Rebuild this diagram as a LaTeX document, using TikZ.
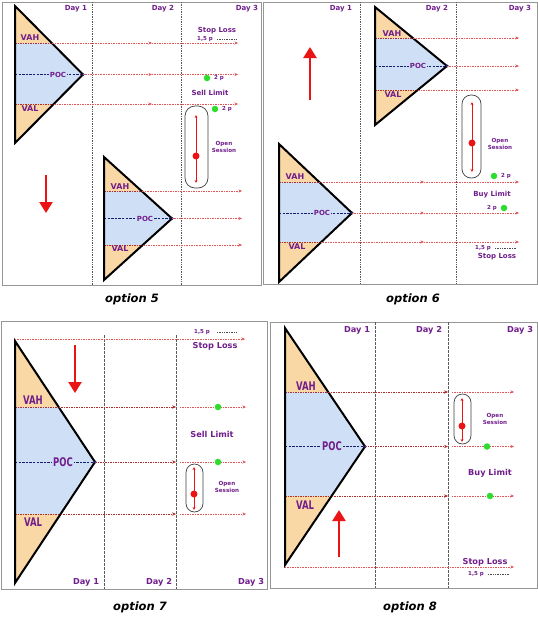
\documentclass[tikz,border=0pt]{standalone}
\usepackage{fontspec}
\setmainfont{DejaVu Sans}
\usetikzlibrary{arrows.meta,calc}
\definecolor{tanf}{RGB}{249,216,166}
\definecolor{bluef}{RGB}{207,224,246}
\definecolor{purp}{RGB}{112,30,140}
\definecolor{lred}{RGB}{228,85,85}
\definecolor{dred}{RGB}{175,45,45}
\definecolor{gdot}{RGB}{45,220,45}
\definecolor{rdot}{RGB}{235,20,20}
\definecolor{navyc}{RGB}{20,30,110}
\definecolor{framec}{RGB}{150,150,150}
\newcommand\tallt[1]{\scalebox{1}[1.4]{#1}}
\tikzset{
  panel/.style={draw=framec, line width=1pt},
  dayline/.style={draw=black!65, densely dotted, line width=0.7pt},
  daylinetwo/.style={draw=black!65, dash pattern=on 2.5pt off 1.5pt, line width=0.55pt},
  lvl/.style={draw=lred, densely dotted, line width=0.65pt, -{Stealth[length=3.5pt,width=3pt]}},
  lvlthick/.style={draw=dred, dash pattern=on 1.6pt off 0.9pt, line width=0.8pt, -{Stealth[length=4pt,width=3.4pt]}},
  innerl/.style={draw=dred, dash pattern=on 1.6pt off 0.9pt, line width=0.7pt},
  pocl/.style={draw=navyc, dash pattern=on 2.4pt off 1.2pt, line width=0.85pt},
  tri/.style={draw=black, line width=2pt, line join=miter},
  bigarrow/.style={draw=rdot, line width=2.4pt, -{Triangle[length=11pt,width=13pt]}},
  capsule/.style={draw=black!75, line width=0.7pt},
  sess/.style={draw=rdot, line width=0.7pt, {Stealth[length=3pt,width=2.8pt]}-{Stealth[length=3pt,width=2.8pt]}},
  gd/.style={circle, fill=gdot, inner sep=0pt, minimum size=6.5pt},
  rd/.style={circle, fill=rdot, inner sep=0pt, minimum size=7pt},
  txt/.style={text=purp, inner sep=0pt, font=\bfseries\fontsize{7}{8}\selectfont},
  txtb/.style={text=purp, inner sep=0pt, font=\bfseries\fontsize{8.2}{9}\selectfont},
  lab/.style={text=purp, inner sep=0.6pt, font=\bfseries\fontsize{8}{9}\selectfont},
  labp/.style={text=purp, inner sep=0.8pt, fill=bluef, font=\bfseries\fontsize{7}{8}\selectfont},
  labbig/.style={text=purp, inner sep=0.6pt, font=\bfseries\fontsize{8.5}{9}\selectfont},
  labbigp/.style={text=purp, inner sep=0.8pt, fill=bluef, font=\bfseries\fontsize{8.5}{9}\selectfont},
  small/.style={text=purp, inner sep=0pt, font=\bfseries\fontsize{5.5}{6.5}\selectfont},
  sessl/.style={text=purp, inner sep=0pt, align=center, font=\bfseries\fontsize{5.6}{6.6}\selectfont},
  caption/.style={text=black, inner sep=0pt, font=\bfseries\itshape\fontsize{11.5}{13}\selectfont},
  dashsmall/.style={draw=black!70, dash pattern=on 1pt off 0.7pt, line width=0.55pt}
}
\newcommand\vaprofile[7]{%
  \pgfmathsetmacro\ymidv{(#3+#4)/2}%
  \pgfmathsetmacro\xhv{#2+(#6-#3)/(\ymidv-#3)*(#5-#2)}%
  \pgfmathsetmacro\xlv{#2+(#4-#7)/(#4-\ymidv)*(#5-#2)}%
  \coordinate (#1T) at (#2,#3);
  \coordinate (#1B) at (#2,#4);
  \coordinate (#1A) at (#5,\ymidv);
  \coordinate (#1P) at (#2,\ymidv);
  \coordinate (#1HL) at (#2,#6);
  \coordinate (#1HE) at (\xhv,#6);
  \coordinate (#1LL) at (#2,#7);
  \coordinate (#1LE) at (\xlv,#7);
  \fill[tanf] (#1T)--(#1HE)--(#1HL)--cycle;
  \fill[bluef] (#1HL)--(#1HE)--(#1A)--(#1LE)--(#1LL)--cycle;
  \fill[tanf] (#1LL)--(#1LE)--(#1B)--cycle;
  \draw[innerl] (#1HL)--(#1HE);
  \draw[innerl] (#1LL)--(#1LE);
  \draw[pocl] (#1P)--(#1A);
  \draw[tri] (#1T)--(#1A)--(#1B)--cycle;
  \fill[navyc] (#1A) circle (1.6pt);
}
\begin{document}
\begin{tikzpicture}[x=1pt,y=-1pt]
\fill[white] (0,0) rectangle (538,630);
\useasboundingbox (0,0) rectangle (538,630);

% ================= option 5 =================
\draw[panel] (2,2) rectangle (261,285);
\draw[dayline] (92,2) -- (92,285);
\draw[dayline] (181,2) -- (181,285);
\node[txt] (d51) at (76,9) {Day 1};
\node[txt] (d52) at (163,9) {Day 2};
\node[txt] (d53) at (247,9) {Day 3};
\vaprofile{pa}{15}{6}{143}{83}{43}{104}
\node[lab] (pavah) at (30,38) {VAH};
\node[labp] (papoc) at (58,74.5) {POC};
\node[lab] (paval) at (30,109) {VAL};
\coordinate (paHm) at (152,43); \coordinate (paHx) at (238,43);
\coordinate (paPm) at (152,74.5); \coordinate (paPx) at (238,74.5);
\coordinate (paLm) at (152,104); \coordinate (paLx) at (238,104);
\draw[lvl] (paHE) -- (paHm); \draw[lvl] (paHm) -- (paHx);
\draw[lvl] (paA) -- (paPm); \draw[lvl] (paPm) -- (paPx);
\draw[lvl] (paLE) -- (paLm); \draw[lvl] (paLm) -- (paLx);
\vaprofile{pb}{104}{157}{280}{172}{191}{245}
\node[lab] (pbvah) at (120,187) {VAH};
\node[labp] (pbpoc) at (145,218.5) {POC};
\node[lab] (pbval) at (120,249) {VAL};
\coordinate (pbHx) at (242,191); \coordinate (pbPx) at (242,218.5); \coordinate (pbLx) at (242,245);
\draw[lvl] (pbHE) -- (pbHx);
\draw[lvl] (pbA) -- (pbPx);
\draw[lvl] (pbLE) -- (pbLx);
\node[txt] (sl5) at (217,31) {Stop Loss};
\node[small] (p15a) at (205,39) {1,5 p};
\coordinate (ds5a) at (217,39); \coordinate (ds5b) at (236,39);
\draw[dashsmall] (ds5a) -- (ds5b);
\node[gd] (g5a) at (207,78) {};
\node[small] (t5a) at (219,78.5) {2 p};
\node[txt] (sell5) at (210,93) {Sell Limit};
\node[gd] (g5b) at (215,109) {};
\node[small] (t5b) at (227,109.5) {2 p};
\draw[capsule, rounded corners=10pt] (185,106) rectangle (208,188);
\coordinate (s5a) at (196,115); \coordinate (s5b) at (196,183);
\draw[sess] (s5a) -- (s5b);
\node[rd] (r5) at (196,156) {};
\node[sessl] (os5) at (224,147) {Open\\Session};
\coordinate (ar5a) at (46,175); \coordinate (ar5b) at (46,213);
\draw[bigarrow] (ar5a) -- (ar5b);
\node[caption] (cap5) at (132,299) {option 5};

% ================= option 6 =================
\draw[panel] (263,2) rectangle (537,284);
\draw[dayline] (360,2) -- (360,284);
\draw[dayline] (456,2) -- (456,284);
\node[txt] (d61) at (341,9) {Day 1};
\node[txt] (d62) at (437,9) {Day 2};
\node[txt] (d63) at (520,9) {Day 3};
\vaprofile{pc}{375}{7}{125}{447}{38}{90}
\node[lab] (pcvah) at (392,33.5) {VAH};
\node[labp] (pcpoc) at (418,66) {POC};
\node[lab] (pcval) at (393,94.5) {VAL};
\coordinate (pcHx) at (519,38); \coordinate (pcPx) at (519,66); \coordinate (pcLx) at (519,90);
\draw[lvl] (pcHE) -- (pcHx);
\draw[lvl] (pcA) -- (pcPx);
\draw[lvl] (pcLE) -- (pcLx);
\vaprofile{pd}{279}{144}{282}{352}{182}{242}
\node[lab] (pdvah) at (295,177) {VAH};
\node[labp] (pdpoc) at (322,213) {POC};
\node[lab] (pdval) at (297,247) {VAL};
\coordinate (pdHm) at (424,182); \coordinate (pdHx) at (519,182);
\coordinate (pdPm) at (424,213); \coordinate (pdPx) at (519,213);
\coordinate (pdLm) at (424,242); \coordinate (pdLx) at (519,242);
\draw[lvl] (pdHE) -- (pdHm); \draw[lvl] (pdHm) -- (pdHx);
\draw[lvl] (pdA) -- (pdPm); \draw[lvl] (pdPm) -- (pdPx);
\draw[lvl] (pdLE) -- (pdLm); \draw[lvl] (pdLm) -- (pdLx);
\coordinate (ar6a) at (310,100); \coordinate (ar6b) at (310,47);
\draw[bigarrow] (ar6a) -- (ar6b);
\draw[capsule, rounded corners=9pt] (462,95) rectangle (481,178);
\coordinate (s6a) at (472,102); \coordinate (s6b) at (472,172);
\draw[sess] (s6a) -- (s6b);
\node[rd] (r6) at (472,143) {};
\node[sessl] (os6) at (500,144) {Open\\Session};
\node[gd] (g6a) at (494,176) {};
\node[small] (t6a) at (506,176.5) {2 p};
\node[txt] (buy6) at (492,195) {Buy Limit};
\node[small] (t6b) at (492,208.5) {2 p};
\node[gd] (g6b) at (504,208) {};
\node[small] (p16) at (483,248) {1,5 p};
\coordinate (ds6a) at (495,248); \coordinate (ds6b) at (517,248);
\draw[dashsmall] (ds6a) -- (ds6b);
\node[txt] (sl6) at (497,257) {Stop Loss};
\node[caption] (cap6) at (413,299) {option 6};

% ================= option 7 =================
\draw[panel] (1,321) rectangle (267,589);
\draw[daylinetwo] (104,335) -- (104,589);
\draw[daylinetwo] (176,335) -- (176,589);
\node[txtb] (d71) at (86,582) {Day 1};
\node[txtb] (d72) at (159,582) {Day 2};
\node[txtb] (d73) at (251,582) {Day 3};
\vaprofile{pe}{15}{341}{583}{95}{407}{514}
\coordinate (peS0) at (15,339); \coordinate (peSx) at (245,339);
\draw[lvl] (peS0) -- (peSx);
\node[labbig] (pevah) at (33,400) {\tallt{VAH}};
\node[labbigp] (pepoc) at (63,462) {\tallt{POC}};
\node[labbig] (peval) at (33,522) {\tallt{VAL}};
\coordinate (peHm) at (176,407); \coordinate (peHn) at (180,407); \coordinate (peHx) at (246,407);
\coordinate (pePm) at (176,462); \coordinate (pePn) at (180,462); \coordinate (pePx) at (246,462);
\coordinate (peLm) at (176,514); \coordinate (peLn) at (180,514); \coordinate (peLx) at (246,514);
\draw[lvlthick] (peHE) -- (peHm); \draw[lvl] (peHn) -- (peHx);
\draw[lvlthick] (peA) -- (pePm); \draw[lvl] (pePn) -- (pePx);
\draw[lvlthick] (peLE) -- (peLm); \draw[lvl] (peLn) -- (peLx);
\node[gd] (g7a) at (218,407) {};
\node[gd] (g7b) at (218,462) {};
\node[txtb] (sell7) at (212,434) {Sell Limit};
\draw[capsule, rounded corners=8.5pt] (186,464) rectangle (203,512);
\coordinate (s7a) at (194,467); \coordinate (s7b) at (194,510);
\draw[sess] (s7a) -- (s7b);
\node[rd] (r7) at (194,494) {};
\node[sessl] (os7) at (227,487) {Open\\Session};
\coordinate (ar7a) at (75,345); \coordinate (ar7b) at (75,393);
\draw[bigarrow] (ar7a) -- (ar7b);
\node[small] (p17) at (202,332) {1,5 p};
\coordinate (ds7a) at (217,332); \coordinate (ds7b) at (237,332);
\draw[dashsmall] (ds7a) -- (ds7b);
\node[txtb] (sl7) at (215,346) {Stop Loss};
\node[caption] (cap7) at (140,607) {option 7};

% ================= option 8 =================
\draw[panel] (270,322) rectangle (537,588);
\draw[daylinetwo] (375,322) -- (375,588);
\draw[daylinetwo] (448,322) -- (448,588);
\node[txtb] (d81) at (357,330) {Day 1};
\node[txtb] (d82) at (429,330) {Day 2};
\node[txtb] (d83) at (520,330) {Day 3};
\vaprofile{pf}{285}{328}{565}{365}{392}{496}
\node[labbig] (pfvah) at (306,386) {\tallt{VAH}};
\node[labbigp] (pfpoc) at (332,446.5) {\tallt{POC}};
\node[labbig] (pfval) at (305,505) {\tallt{VAL}};
\coordinate (pfHm) at (448,392); \coordinate (pfHn) at (452,392); \coordinate (pfHx) at (514,392);
\coordinate (pfPm) at (448,446.5); \coordinate (pfPn) at (452,446.5); \coordinate (pfPx) at (514,446.5);
\coordinate (pfLm) at (448,496); \coordinate (pfLn) at (452,496); \coordinate (pfLx) at (514,496);
\draw[lvlthick] (pfHE) -- (pfHm); \draw[lvl] (pfHn) -- (pfHx);
\draw[lvlthick] (pfA) -- (pfPm); \draw[lvl] (pfPn) -- (pfPx);
\draw[lvlthick] (pfLE) -- (pfLm); \draw[lvl] (pfLn) -- (pfLx);
\coordinate (pfS0) at (285,567); \coordinate (pfSx) at (514,567);
\draw[lvl] (pfS0) -- (pfSx);
\node[gd] (g8a) at (487,446.5) {};
\node[gd] (g8b) at (490,496) {};
\draw[capsule, rounded corners=8.5pt] (454,394) rectangle (471,444);
\coordinate (s8a) at (462,398); \coordinate (s8b) at (462,442);
\draw[sess] (s8a) -- (s8b);
\node[rd] (r8) at (462,426) {};
\node[sessl] (os8) at (495,419) {Open\\Session};
\node[txtb] (buy8) at (490,473) {Buy Limit};
\coordinate (ar8a) at (339,557); \coordinate (ar8b) at (339,510);
\draw[bigarrow] (ar8a) -- (ar8b);
\node[txtb] (sl8) at (485,562) {Stop Loss};
\node[small] (p18) at (476,574) {1,5 p};
\coordinate (ds8a) at (488,574); \coordinate (ds8b) at (510,574);
\draw[dashsmall] (ds8a) -- (ds8b);
\node[caption] (cap8) at (410,607) {option 8};
\end{tikzpicture}
\end{document}
